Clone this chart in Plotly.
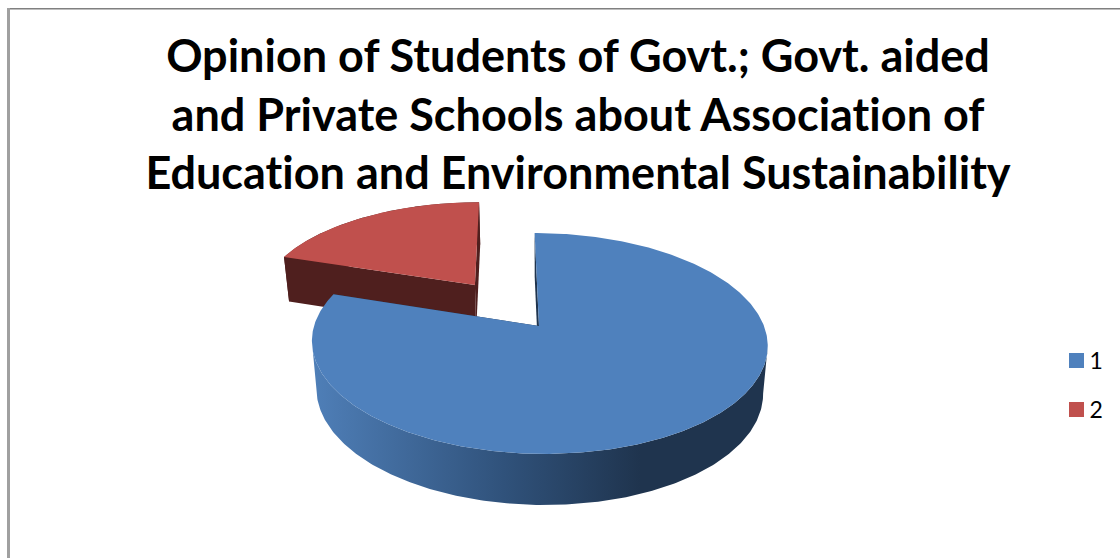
import numpy as np
import plotly.graph_objects as go

# Chart data
categories = ["1", "2"]
values = [80, 20]
explode = [0.0, 0.5]
title_lines = [
    "Opinion of Students of Govt.; Govt. aided",
    "and Private Schools about Association of",
    "Education and Environmental Sustainability",
]

# Colours
TOP = ["#4F81BD", "#C0504D"]
WALL = ["#1F344E", "#4F1F1E"]
BLUE_RIM = [[0, "#4F7FB8"], [0.42, "#30527B"], [0.72, "#1F344E"], [1, "#1F344E"]]

# Perspective model of the pie's plane, in figure pixels
W, H = 1120, 558
X0, CX, CY = 507.0, 539.0, 326.0     # vanishing x, pie centre
RX, RY, K = 225.0, 107.7, 0.158      # radii and foreshortening
DEPTH, DEPTH_K = 47.0, 0.08          # pie thickness
SHRINK, SHRINK_X = 0.98, 537.0       # lower face is slightly narrower

# Key placement, in figure pixels
KEY_X = 1076.5
KEY_Y = [360.5, 409.5]
KEY_TEXT_DX, KEY_TEXT_DY = 13.0, 3.0


def project(u, v, z=0.0):
    u, v = np.asarray(u, float), np.asarray(v, float)
    w = 1 + K * v
    x = X0 + (CX - X0 + RX * u) / w
    y = CY - RY * v / w
    if z:
        x = SHRINK_X + (x - SHRINK_X) * SHRINK
        y = y + z * DEPTH / (1 + DEPTH_K * v)
    return x, y


def polygon(xs, ys, color=None, gradient=None):
    kw = dict(fillgradient=gradient) if gradient else dict(fillcolor=color)
    return go.Scatter(
        x=list(xs), y=list(ys), mode="lines", fill="toself",
        line=dict(width=0), hoverinfo="skip", showlegend=False, **kw,
    )


# Slice angles, clockwise from twelve o'clock
fractions = np.array(values, float) / sum(values)
edges = np.concatenate([[0], np.cumsum(fractions)]) * 2 * np.pi

slices = []
for i in range(len(values)):
    a0, a1 = edges[i], edges[i + 1]
    mid = (a0 + a1) / 2
    ou, ov = explode[i] * np.sin(mid), explode[i] * np.cos(mid)
    t = np.linspace(a0, a1, 400)
    slices.append(dict(t=t, a0=a0, a1=a1, ou=ou, ov=ov))

fig = go.Figure()

# The exploded slice sits behind the large one, so slices are painted in reverse
for i in reversed(range(len(values))):
    s = slices[i]
    t, ou, ov = s["t"], s["ou"], s["ov"]
    au, av = ou + np.sin(t), ov + np.cos(t)

    # Outer rim: the large slice runs between its silhouette extremes
    xt, yt = project(au, av)
    xb, yb = project(au, av, 1)
    if i == 0:
        right, left = int(np.argmax(xt)), int(np.argmin(xt))
        rim_x = np.concatenate([xt[right:left + 1], xb[right:left + 1][::-1]])
        rim_y = np.concatenate([yt[right:left + 1], yb[right:left + 1][::-1]])
        fig.add_trace(polygon(rim_x, rim_y, gradient=dict(type="horizontal", colorscale=BLUE_RIM)))
    else:
        fig.add_trace(polygon(
            np.concatenate([xt, xb[::-1]]),
            np.concatenate([yt, yb[::-1]]),
            WALL[i],
        ))

    # Cut faces along both radial edges
    for ang in (s["a0"], s["a1"]):
        cu = np.array([ou, ou + np.sin(ang)])
        cv = np.array([ov, ov + np.cos(ang)])
        x1, y1 = project(cu, cv)
        x2, y2 = project(cu, cv, 1)
        fig.add_trace(polygon(
            np.concatenate([x1, x2[::-1]]),
            np.concatenate([y1, y2[::-1]]),
            WALL[i],
        ))

    # Top face
    xc, yc = project([ou], [ov])
    fig.add_trace(polygon(np.concatenate([xc, xt]), np.concatenate([yc, yt]), TOP[i]))

# Colour key beside the pie
for i, name in enumerate(categories):
    fig.add_trace(go.Scatter(
        x=[KEY_X], y=[KEY_Y[i]], mode="markers", name=name,
        marker=dict(symbol="square", size=15, color=TOP[i]),
        hoverinfo="skip", showlegend=False, cliponaxis=False,
    ))
    fig.add_trace(go.Scatter(
        x=[KEY_X + KEY_TEXT_DX], y=[KEY_Y[i] + KEY_TEXT_DY], mode="text", name=name,
        text=[name], textposition="middle right",
        textfont=dict(family="Lato", size=23, color="black"),
        hoverinfo="skip", showlegend=False, cliponaxis=False,
    ))

axis = dict(visible=False, fixedrange=True)
title_text = "<br>".join(
    f'<span style="font-variant-ligatures:none">{line}</span>' for line in title_lines
)
fig.update_layout(
    width=W, height=H,
    margin=dict(l=0, r=0, t=0, b=0),
    paper_bgcolor="white", plot_bgcolor="white",
    xaxis=dict(range=[0, W], **axis),
    yaxis=dict(range=[H, 0], **axis),
    title=dict(
        text=title_text,
        font=dict(family="Lato", size=45, color="black", weight=700),
        x=578 / W, xanchor="center",
        y=1 - 72 / H, yanchor="top", yref="container",
    ),
    shapes=[
        dict(type="rect", x0=7, x1=W, y0=8, y1=9, fillcolor="#808080", line_width=0, layer="below"),
        dict(type="rect", x0=7, x1=W, y0=9, y1=10, fillcolor="#BDBDBD", line_width=0, layer="below"),
        dict(type="rect", x0=7, x1=10, y0=8, y1=H, fillcolor="#A0A0A0", line_width=0, layer="below"),
    ],
)

fig.write_html("out.html", config=dict(displayModeBar=False))
